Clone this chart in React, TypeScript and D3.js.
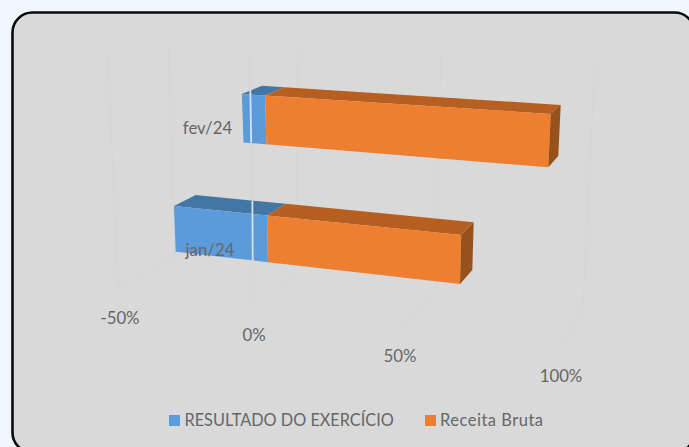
// App.tsx
import React, { useRef, useEffect } from 'react';
import * as d3 from 'd3';

const months = ['jan/24', 'fev/24'];
const resultadoFrom = [-26, -2.7];
const resultadoTo = [5, 5];
const receitaTo = [69.6, 100];

const axisTicks = [-50, 0, 50, 100];
const legendNames = ['RESULTADO DO EXERCÍCIO', 'Receita Bruta'];

const faces = {
    resultado: { front: '#5b9bd9', top: '#4476a3' },
    receita: { front: '#ee7e30', top: '#b65f20', side: '#97521b' },
};

// bar corners at 0% and 100%, one projected frame per month
const frames = [
    {
        frontTop: [[252.1, 552.6], [213.9, 244.2]],
        frontBottom: [[253, 550.4], [260.5, 294.3]],
        backTop: [[271.3, 562.1], [202.4, 231]],
        backBottom: [[272, 559.8], [247.7, 279.7]],
        zeroLine: [200.7, 261],
        labelAt: [210, 256],
    },
    {
        frontTop: [[250, 550.7], [94.5, 114]],
        frontBottom: [[251.5, 548.3], [143.15, 167.3]],
        backTop: [[269.9, 560.7], [86.2, 105]],
        backBottom: [[271, 558.3], [134, 156]],
        zeroLine: [90, 142.7],
        labelAt: [207.5, 134],
    },
];

const App = () => {
    const chartRef = useRef<SVGSVGElement>(null);

    useEffect(() => {
        const svg = d3.select(chartRef.current);
        svg.selectAll('*').remove();

        svg.append('rect').attr('width', 689).attr('height', 447).attr('fill', '#f0f5ff');
        svg.append('rect')
            .attr('x', 12.5)
            .attr('y', 12.5)
            .attr('width', 682)
            .attr('height', 440)
            .attr('rx', 20)
            .attr('fill', '#d9d9d9')
            .attr('stroke', '#0a0a0a')
            .attr('stroke-width', 2.6);

        // projected floor and wall positions of every tick
        const scale = (range: number[]) => d3.scaleLinear().domain(axisTicks).range(range);
        const floorFrontX = scale([118, 254, 402, 560]);
        const floorFrontY = scale([288, 307, 328, 348]);
        const floorBackX = scale([175, 296, 435, 583]);
        const floorBackY = scale([256, 273, 290, 307]);
        const wallTopX = scale([168, 298, 441, 595]);
        const wallTopY = scale([40, 45, 53, 62]);
        const labelX = scale([120, 254, 400, 561]);
        const labelY = scale([318, 335, 356, 376]);

        const line = d3.line();
        const grid = svg.append('g').attr('fill', 'none').attr('stroke', '#d5d5d5').attr('stroke-width', 1);
        axisTicks.forEach((t) => {
            grid.append('path').attr('d', line([
                [wallTopX(t), wallTopY(t)],
                [floorBackX(t), floorBackY(t)],
                [floorFrontX(t), floorFrontY(t)],
            ]));
        });
        // only the two left ticks carry a front upright
        const frontTopX = scale([108, 249.5, 0, 0]);
        axisTicks.slice(0, 2).forEach((t) => {
            grid.append('path').attr('d', line([
                [frontTopX(t), 56],
                [floorFrontX(t), floorFrontY(t)],
            ]));
        });

        // back bar first so January sits over it
        [1, 0].forEach((i) => {
            const f = frames[i];
            const corner = (c: number[][]) => {
                const x = d3.scaleLinear().domain([0, 100]).range(c[0]);
                const y = d3.scaleLinear().domain([0, 100]).range(c[1]);
                return (v: number): [number, number] => [x(v), y(v)];
            };
            const ft = corner(f.frontTop);
            const fb = corner(f.frontBottom);
            const bt = corner(f.backTop);
            const bb = corner(f.backBottom);
            const g = svg.append('g');

            const segment = (from: number, to: number, c: { front: string; top: string }) => {
                g.append('path')
                    .attr('d', line([bt(from), bt(to), ft(to), ft(from)]) + 'Z')
                    .attr('fill', c.top);
                g.append('path')
                    .attr('d', line([ft(from), ft(to), fb(to), fb(from)]) + 'Z')
                    .attr('fill', c.front);
            };
            segment(resultadoFrom[i], resultadoTo[i], faces.resultado);
            segment(resultadoTo[i], receitaTo[i], faces.receita);

            const end = receitaTo[i];
            g.append('path')
                .attr('d', line([ft(end), bt(end), bb(end), fb(end)]) + 'Z')
                .attr('fill', faces.receita.side);

            g.append('line')
                .attr('x1', ft(0)[0] + 0.3)
                .attr('x2', fb(0)[0] - 0.3)
                .attr('y1', f.zeroLine[0])
                .attr('y2', f.zeroLine[1])
                .attr('stroke', '#d6e2ec')
                .attr('stroke-width', 1.8);
        });

        const textStyle = (sel: any) =>
            sel
                .attr('font-family', 'Lato, Carlito, sans-serif')
                .attr('font-size', 16.8)
                .attr('fill', '#666666');

        months.forEach((m, i) => {
            svg.append('text')
                .call(textStyle)
                .attr('x', frames[i].labelAt[0])
                .attr('y', frames[i].labelAt[1])
                .attr('text-anchor', 'middle')
                .text(m);
        });

        axisTicks.forEach((t) => {
            svg.append('text')
                .call(textStyle)
                .attr('x', labelX(t))
                .attr('y', labelY(t) + 5.5)
                .attr('text-anchor', 'middle')
                .text(`${t}%`);
        });

        // legend
        const legendX = [169, 425];
        const legendSize = [16.3, 16.5];
        const legendTracking = [0, 0.5];
        legendNames.forEach((name, i) => {
            svg.append('rect')
                .attr('x', legendX[i])
                .attr('y', 415)
                .attr('width', 11)
                .attr('height', 11)
                .attr('fill', i === 0 ? faces.resultado.front : faces.receita.front);
            svg.append('text')
                .call(textStyle)
                .attr('font-size', legendSize[i])
                .attr('letter-spacing', legendTracking[i])
                .attr('x', legendX[i] + (i === 0 ? 15.5 : 15))
                .attr('y', 426)
                .text(name);
        });
    }, []);

    return (
        <svg
            ref={chartRef}
            width={689}
            height={447}
            style={{ position: 'absolute', left: 0, top: 0, display: 'block' }}
        ></svg>
    );
};

export default App;
